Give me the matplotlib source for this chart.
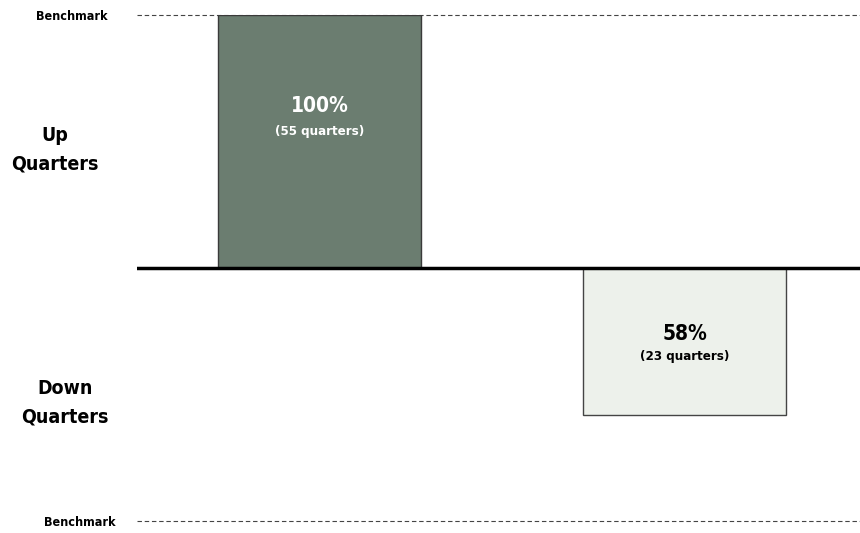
import matplotlib.pyplot as plt

categories = ["Up Quarters", "Down Quarters"]
capture = [100, 58]          # capture ratio, % of benchmark
quarters = [55, 23]
direction = [1, -1]          # up bars above zero, down bars below

up_color = "#6b7d70"
down_color = "#edf1eb"

plt.rcParams['font.family'] = ['DejaVu Sans']
plt.rcParams['font.stretch'] = 'condensed'

fig = plt.figure(figsize=(8.6, 5.33), dpi=100)
W, H = 860, 533
ax = fig.add_axes([137 / W, (H - 521) / H, (860 - 137) / W, (521 - 15) / H])
ax.set_xlim(-0.5, 1.48)
ax.set_ylim(-100, 100)
ax.axis('off')

colors = [up_color, down_color]
edges = ["#3a3a3a", "#444444"]
txt_colors = ["white", "black"]
pct_y = [64, -26]
cnt_y = [54, -35]
for i in range(len(categories)):
    h = capture[i] * direction[i]
    ax.bar(i, h, width=0.556, color=colors[i], edgecolor=edges[i], linewidth=1.0, zorder=2)
    ax.text(i, pct_y[i], f"{capture[i]}%", ha='center', va='center',
            fontsize=15, fontweight='bold', color=txt_colors[i])
    ax.text(i, cnt_y[i], f"({quarters[i]} quarters)", ha='center', va='center',
            fontsize=9.5, fontweight='bold', color=txt_colors[i])

# zero line and benchmark lines
ax.axhline(0, color='black', linewidth=2.5, zorder=3)
for y in (100, -100):
    ax.axhline(y, color='#444444', linewidth=0.8, linestyle=(0, (4, 2.5)), zorder=1, clip_on=False)

fig.text(72 / W, 1 - 16 / H, "Benchmark", ha='center', va='center', fontsize=9, fontweight='bold')
fig.text(80 / W, 1 - 522 / H, "Benchmark", ha='center', va='center', fontsize=9, fontweight='bold')
fig.text(55 / W, 1 - 150 / H, "Up\nQuarters", ha='center', va='center', fontsize=14,
         fontweight='semibold', linespacing=1.6)
fig.text(65 / W, 1 - 403 / H, "Down\nQuarters", ha='center', va='center', fontsize=14,
         fontweight='semibold', linespacing=1.6)

fig.savefig("out.png", dpi=100)
